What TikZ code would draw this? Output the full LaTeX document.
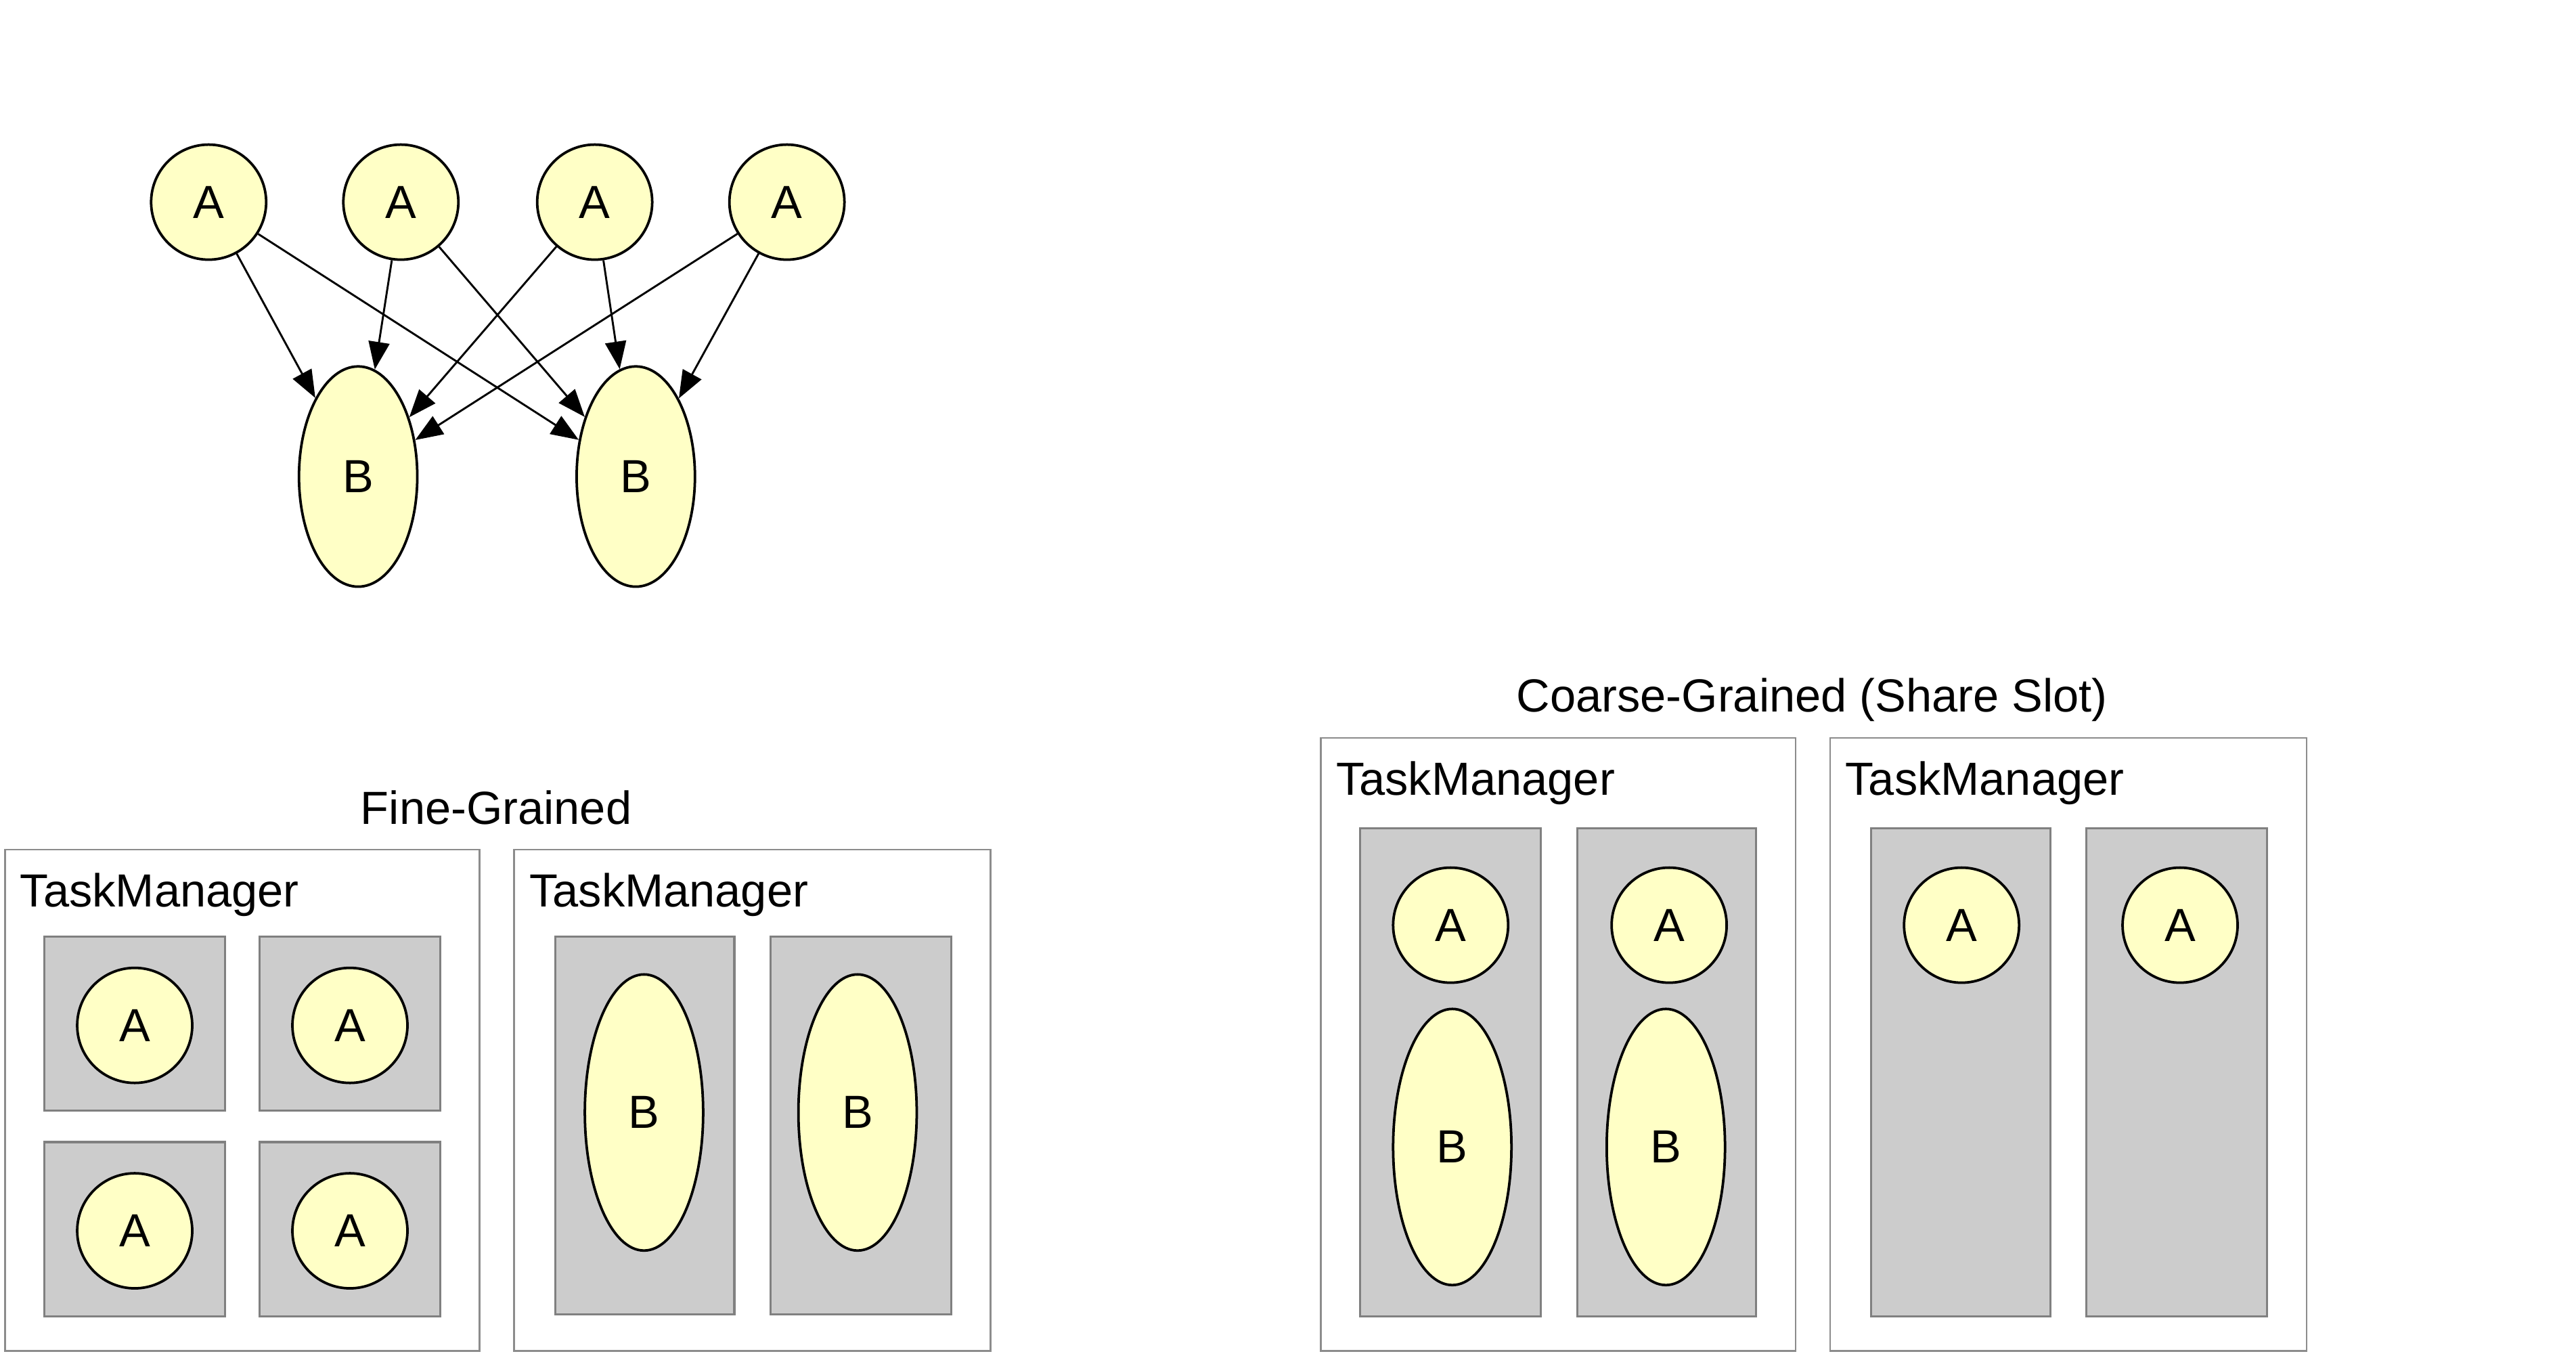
\documentclass[tikz,border=0pt]{standalone}
\usepackage{fontspec}
\setmainfont{Liberation Sans}
\usetikzlibrary{arrows.meta,shapes.geometric}
\definecolor{taskfill}{HTML}{FFFFC6}
\definecolor{slotfill}{HTML}{CCCCCC}
\definecolor{slotline}{HTML}{808080}
\definecolor{tmline}{HTML}{8C8C8C}
\newcommand{\tmfont}{\fontsize{20.1}{24}\selectfont}
\tikzset{%
    >={Triangle[length=4.2mm,width=3.2mm]},
    task/.style={draw, line width=1.1pt, fill=taskfill, inner sep=0pt, font=\tmfont},
    anode/.style={task, circle, minimum size=1.75cm},
    bnode/.style={task, ellipse, minimum width=1.8cm},
    slot/.style={draw=slotline, fill=slotfill, line width=0.9pt},
    tm/.style={draw=tmline, line width=0.8pt},
    title/.style={font=\tmfont, inner sep=0pt}
}

\begin{document}
\begin{tikzpicture}[x=0.025cm, y=-0.025cm]
        \useasboundingbox (0,0) rectangle (1568,825);

        % job graph
        \node[anode] (a1) at (127,123) {A};
        \node[anode] (a2) at (244,123) {A};
        \node[anode] (a3) at (362,123) {A};
        \node[anode] (a4) at (479,123) {A};
        \node[bnode, minimum height=3.35cm] (b1) at (218,290) {B};
        \node[bnode, minimum height=3.35cm] (b2) at (387,290) {B};
        \foreach \i in {1,...,4}
            \foreach \j in {1,2}
                \draw[->, line width=0.85pt] (a\i) -- (b\j);

        % fine-grained
        \node[title, anchor=base] (fine) at (302,501.5) {Fine-Grained};
        \draw[tm] (3,517) rectangle (292,822);
        \draw[tm] (313,517) rectangle (603,822);
        \node[title, anchor=base west] (ftm1) at (12,552) {TaskManager};
        \node[title, anchor=base west] (ftm2) at (322,552) {TaskManager};
        \draw[slot] (27,570) rectangle (137,676);
        \draw[slot] (158,570) rectangle (268,676);
        \draw[slot] (27,695) rectangle (137,801);
        \draw[slot] (158,695) rectangle (268,801);
        \draw[slot] (338,570) rectangle (447,800);
        \draw[slot] (469,570) rectangle (579,800);
        \node[anode] (fa1) at (82,624) {A};
        \node[anode] (fa2) at (213,624) {A};
        \node[anode] (fa3) at (82,749) {A};
        \node[anode] (fa4) at (213,749) {A};
        \node[bnode, minimum height=4.2cm] (fb1) at (392,677) {B};
        \node[bnode, minimum height=4.2cm] (fb2) at (522,677) {B};

        % coarse-grained
        \node[title, anchor=base] (coarse) at (1103,433) {Coarse-Grained (Share Slot)};
        \draw[tm] (804,449) rectangle (1093,822);
        \draw[tm] (1114,449) rectangle (1404,822);
        \node[title, anchor=base west] (ctm1) at (813,484) {TaskManager};
        \node[title, anchor=base west] (ctm2) at (1123,484) {TaskManager};
        \draw[slot] (828,504) rectangle (938,801);
        \draw[slot] (960,504) rectangle (1069,801);
        \draw[slot] (1139,504) rectangle (1248,801);
        \draw[slot] (1270,504) rectangle (1380,801);
        \node[anode] (ca1) at (883,563) {A};
        \node[anode] (ca2) at (1016,563) {A};
        \node[anode] (ca3) at (1194,563) {A};
        \node[anode] (ca4) at (1327,563) {A};
        \node[bnode, minimum height=4.2cm] (cb1) at (884,698) {B};
        \node[bnode, minimum height=4.2cm] (cb2) at (1014,698) {B};
\end{tikzpicture}
\end{document}
